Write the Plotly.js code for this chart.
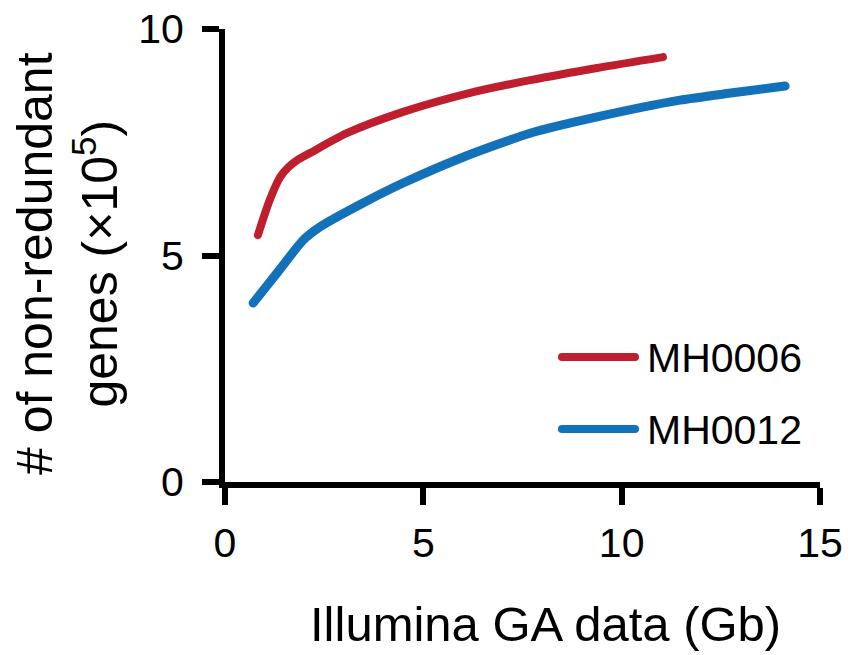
<!DOCTYPE html>
<html>
<head>
<meta charset="utf-8">
<script src="https://cdn.plot.ly/plotly-3.0.1.min.js"></script>
<style>
html,body{margin:0;padding:0;background:#fff;}
#chart{width:853px;height:655px;}
.scatterlayer path.js-line{stroke-linecap:round;stroke-linejoin:round;}
.shapelayer path{stroke-linecap:round;}
</style>
</head>
<body>
<div id="chart"></div>
<script>
// Data
const seriesNames = ["MH0006", "MH0012"];
const mh0006X = [0.83, 1.13, 1.39, 1.60, 1.85, 2.14, 3.07, 4.49, 6.18, 7.69, 9.38, 11.04];
const mh0006Y = [5.45, 6.23, 6.73, 6.95, 7.12, 7.26, 7.70, 8.17, 8.59, 8.87, 9.14, 9.38];
const mh0012X = [0.71, 1.31, 1.97, 2.39, 3.48, 4.49, 6.0, 7.69, 9.38, 11.47, 12.7, 14.12];
const mh0012Y = [3.95, 4.61, 5.34, 5.63, 6.16, 6.60, 7.17, 7.70, 8.06, 8.43, 8.58, 8.74];
const xTicks = [0, 5, 10, 15];
const yTicks = [0, 5, 10];
const colors = ["#BE1E2D", "#1371B9"];

const FONT = "Liberation Sans, Arial, sans-serif";
const W = 853, H = 655;
const L = 225, R = 33, T = 29, B = 173;
const pw = W - L - R, ph = H - T - B;
const px = v => (v - L) / pw;
const py = v => (H - B - v) / ph;

const traces = [
  {x: mh0006X, y: mh0006Y, name: seriesNames[0], mode: "lines",
   line: {color: colors[0], width: 8, shape: "spline", smoothing: 0.8}, hoverinfo: "skip"},
  {x: mh0012X, y: mh0012Y, name: seriesNames[1], mode: "lines",
   line: {color: colors[1], width: 9, shape: "spline", smoothing: 0.6}, hoverinfo: "skip"}
];

const legendY = [357, 429];
const shapes = legendY.map((yy, i) => ({
  type: "line", xref: "paper", yref: "paper",
  x0: px(562), x1: px(635), y0: py(yy), y1: py(yy),
  line: {color: colors[i], width: 8}
}));

const annotations = legendY.map((yy, i) => ({
  xref: "paper", yref: "paper", x: px(645), y: py(yy + 1),
  xanchor: "left", yanchor: "middle", showarrow: false,
  text: seriesNames[i], font: {family: FONT, size: 41, color: "#000"}
}));
annotations.push({
  xref: "paper", yref: "paper", x: px(545), y: py(624),
  xanchor: "center", yanchor: "middle", showarrow: false,
  text: "Illumina GA data (Gb)", font: {family: FONT, size: 49, color: "#000"}
});
annotations.push({
  xref: "paper", yref: "paper", x: px(67), y: py(264),
  xanchor: "center", yanchor: "middle", showarrow: false, textangle: -90,
  text: "# of non-redundant<br>genes (×10<sup>5</sup>)",
  font: {family: FONT, size: 50, color: "#000"}
});

const layout = {
  width: W, height: H,
  margin: {l: L, r: R, t: T, b: B, pad: 0},
  paper_bgcolor: "#fff", plot_bgcolor: "#fff",
  showlegend: false,
  font: {family: FONT, color: "#000"},
  xaxis: {
    range: [0, 15], tickvals: xTicks, ticktext: xTicks.map(String),
    showgrid: false, zeroline: false, showline: true, linecolor: "#000", linewidth: 6,
    ticks: "outside", ticklen: 17, tickwidth: 6, tickcolor: "#000",
    tickfont: {family: FONT, size: 41, color: "#000"}, ticklabelstandoff: 3,
    fixedrange: true
  },
  yaxis: {
    range: [0, 10], tickvals: yTicks, ticktext: yTicks.map(String),
    showgrid: false, zeroline: false, showline: true, linecolor: "#000", linewidth: 6,
    ticks: "outside", ticklen: 17, tickwidth: 6, tickcolor: "#000",
    tickfont: {family: FONT, size: 41, color: "#000"}, ticklabelstandoff: 10,
    fixedrange: true
  },
  shapes: shapes,
  annotations: annotations
};

Plotly.newPlot("chart", traces, layout, {displayModeBar: false, staticPlot: true});
</script>
</body>
</html>
